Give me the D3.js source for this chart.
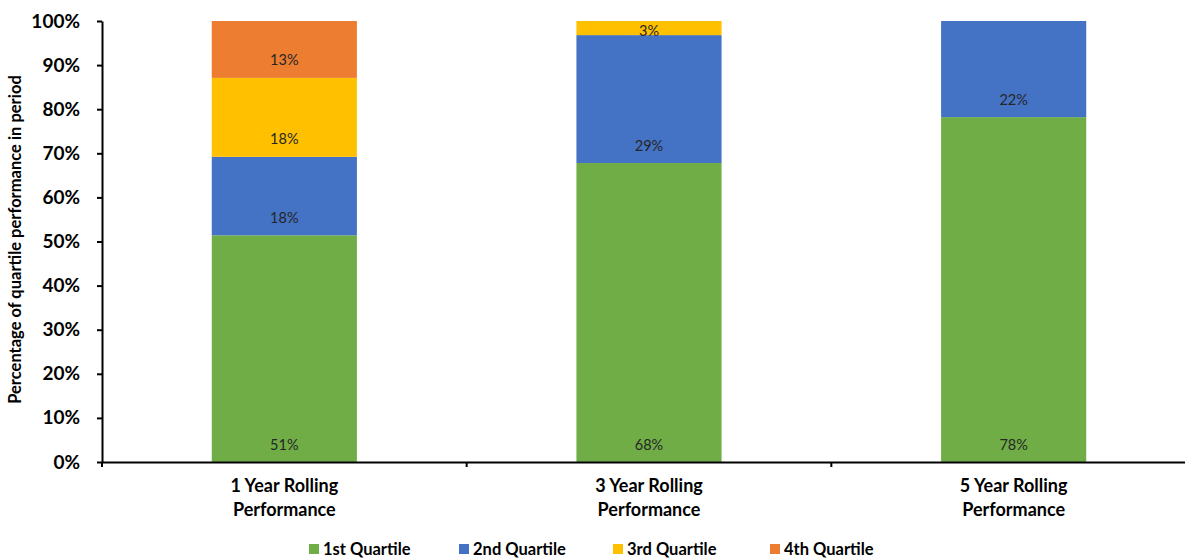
<!DOCTYPE html>
<html>
<head>
<meta charset="utf-8">
<script src="https://cdn.jsdelivr.net/npm/d3@7"></script>
<style>
  html, body { margin: 0; padding: 0; background: #fff; }
  svg { display: block; font-family: "Lato", "Open Sans", sans-serif; }
</style>
</head>
<body>
<svg id="chart" width="1185" height="559"></svg>
<script>
const categories = [["1 Year Rolling", "Performance"], ["3 Year Rolling", "Performance"], ["5 Year Rolling", "Performance"]];
const seriesNames = ["1st Quartile", "2nd Quartile", "3rd Quartile", "4th Quartile"];
const seriesColors = ["#70AD47", "#4472C4", "#FFC000", "#ED7D31"];
const q1 = [51.4, 67.8, 78.2];
const q2 = [17.8, 29.0, 21.8];
const q3 = [17.9, 3.2, 0];
const q4 = [12.9, 0, 0];
const labelsQ1 = ["51%", "68%", "78%"];
const labelsQ2 = ["18%", "29%", "22%"];
const labelsQ3 = ["18%", "3%", ""];
const labelsQ4 = ["13%", "", ""];
const yTicks = [0, 10, 20, 30, 40, 50, 60, 70, 80, 90, 100];

const seriesValues = [q1, q2, q3, q4];
const seriesLabels = [labelsQ1, labelsQ2, labelsQ3, labelsQ4];

const svg = d3.select("#chart");
const mLeft = 102, mRight = 1196, mTop = 21, mBottom = 462;

const x = d3.scaleBand().domain(d3.range(categories.length)).range([mLeft, mRight]).padding(0);
const barW = x.bandwidth() * 0.398;
const y = d3.scaleLinear().domain([0, 100]).range([mBottom, mTop]);

const rows = categories.map((c, i) => {
  const r = { i };
  seriesNames.forEach((s, k) => r[s] = seriesValues[k][i]);
  return r;
});
const stack = d3.stack().keys(seriesNames)(rows);

const g = svg.append("g");
stack.forEach((layer, k) => {
  g.selectAll(null).data(layer).enter().append("rect")
    .attr("x", d => x(d.data.i) + x.bandwidth() / 2 - barW / 2)
    .attr("width", barW)
    .attr("y", d => y(d[1]))
    .attr("height", d => y(d[0]) - y(d[1]))
    .attr("fill", seriesColors[k]);
});

stack.forEach((layer, k) => {
  layer.forEach((d, i) => {
    const lab = seriesLabels[k][i];
    if (!lab) return;
    const yb = y(d[0]), yt = y(d[1]);
    const ly = Math.max(yb - 17.5, yt + 10);
    g.append("text")
      .attr("x", x(i) + x.bandwidth() / 2)
      .attr("y", ly)
      .attr("dy", "0.35em")
      .attr("text-anchor", "middle")
      .attr("font-size", 14.5)
      .attr("fill", "#262626")
      .text(lab);
  });
});

// Y axis
const yAxis = svg.append("g")
  .attr("transform", `translate(${mLeft},0)`)
  .call(d3.axisLeft(y).tickValues(yTicks).tickFormat(d => d + "%").tickSize(5).tickSizeOuter(0).tickPadding(17));
yAxis.select(".domain").attr("stroke", "#000").attr("stroke-width", 2);
yAxis.selectAll(".tick line").attr("stroke", "#000").attr("stroke-width", 2);
yAxis.selectAll(".tick text")
  .attr("font-size", 19).attr("font-weight", "bold").attr("fill", "#000")
  .attr("font-family", "Lato, 'Open Sans', sans-serif");

// X axis
const xAxis = svg.append("g")
  .attr("transform", `translate(0,${mBottom})`)
  .call(d3.axisBottom(x).tickSize(0).tickFormat(""));
xAxis.select(".domain").attr("stroke", "#000").attr("stroke-width", 2);
const boundaries = d3.range(categories.length + 1).map(i => mLeft + i * x.step());
xAxis.selectAll(".bt").data(boundaries).enter().append("line")
  .attr("x1", d => d).attr("x2", d => d).attr("y1", 0).attr("y2", 5)
  .attr("stroke", "#000").attr("stroke-width", 2);

categories.forEach((lines, i) => {
  const cx = x(i) + x.bandwidth() / 2;
  const t = svg.append("text")
    .attr("x", cx)
    .attr("y", 492)
    .attr("text-anchor", "middle")
    .attr("font-size", 18)
    .attr("font-weight", "bold")
    .attr("fill", "#000");
  lines.forEach((ln, j) => {
    t.append("tspan").attr("x", cx).attr("dy", j === 0 ? 0 : 24).text(ln);
  });
});

// Y title
svg.append("text")
  .attr("transform", `translate(21,${(mTop + mBottom) / 2 - 2}) rotate(-90)`)
  .attr("text-anchor", "middle")
  .attr("font-size", 16.5)
  .attr("font-weight", "bold")
  .attr("fill", "#000")
  .text("Percentage of quartile performance in period");

// Legend
const legendX = [309, 459, 613, 770];
const leg = svg.append("g");
seriesNames.forEach((s, k) => {
  leg.append("rect").attr("x", legendX[k]).attr("y", 544).attr("width", 10).attr("height", 10).attr("fill", seriesColors[k]);
  leg.append("text").attr("x", legendX[k] + 14).attr("y", 549).attr("dy", "0.35em")
    .attr("font-size", 16.5).attr("font-weight", "bold").attr("fill", "#000").text(s);
});
</script>
</body>
</html>
